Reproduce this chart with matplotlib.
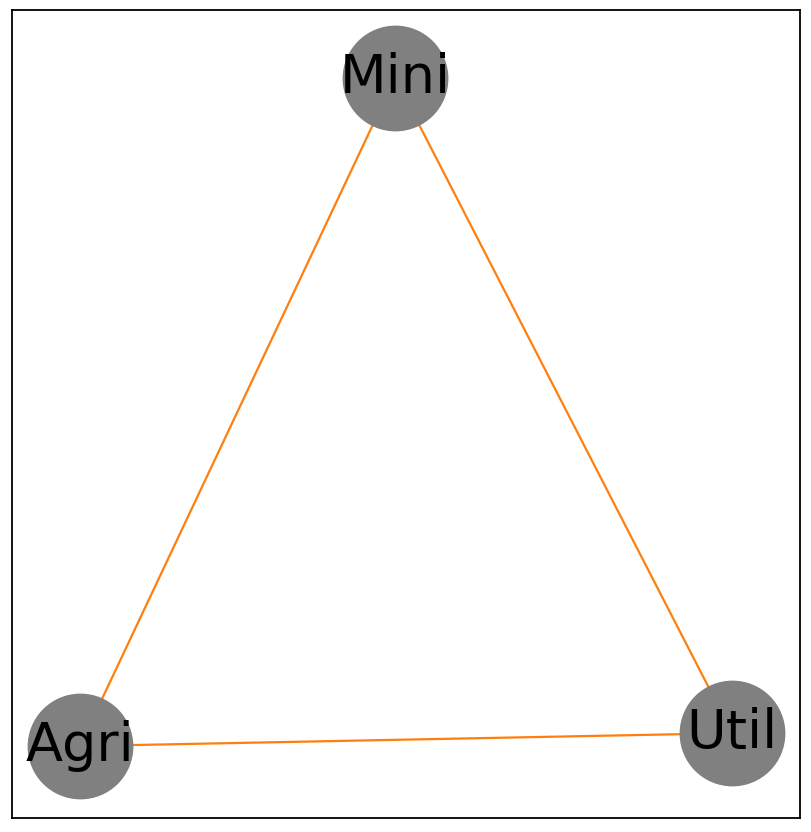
import matplotlib
matplotlib.use('Agg')
import matplotlib.pyplot as plt

# node names and layout positions
nodes = ['Mini', 'Agri', 'Util']
pos_x = [0.486, 0.086, 0.914]
pos_y = [0.916, 0.089, 0.105]
edges = [('Mini', 'Agri'), ('Mini', 'Util'), ('Agri', 'Util')]

fig = plt.figure(figsize=(8.12, 8.32), dpi=100)
ax = fig.add_axes([12 / 812, 14 / 832, 788 / 812, 808 / 832])

idx = {n: i for i, n in enumerate(nodes)}
for a, b in edges:
    ax.plot([pos_x[idx[a]], pos_x[idx[b]]], [pos_y[idx[a]], pos_y[idx[b]]],
            color='#ff7f0e', lw=1.6, zorder=1)

ax.scatter(pos_x, pos_y, s=5800, c='#808080', zorder=2, linewidths=0)
for n, x, y in zip(nodes, pos_x, pos_y):
    ax.text(x, y, n, fontsize=39, ha='center', va='center', color='black', zorder=3)

ax.set_xlim(0, 1)
ax.set_ylim(0, 1)
ax.set_xticks([])
ax.set_yticks([])
for sp in ax.spines.values():
    sp.set_linewidth(1.3)

plt.savefig('out.png', dpi=100)
